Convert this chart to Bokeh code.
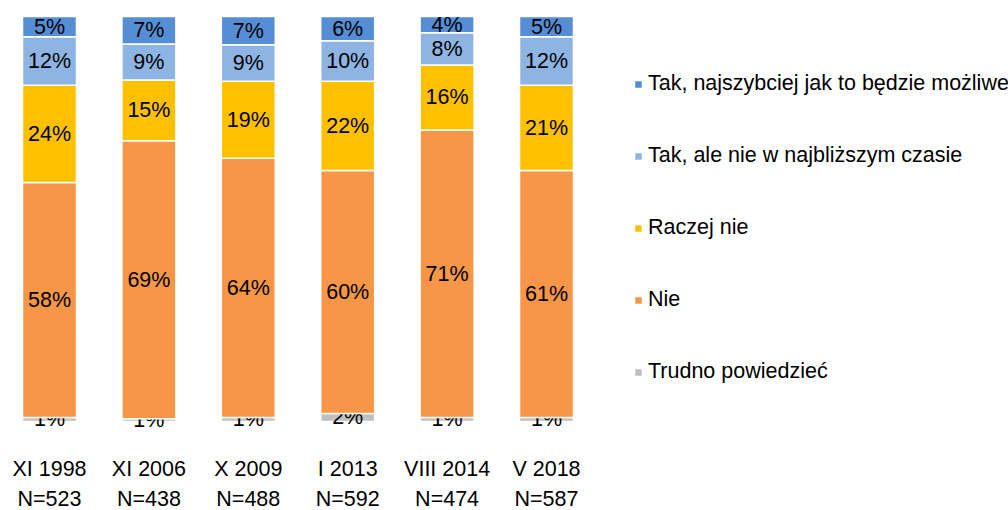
import numpy as np
from bokeh.plotting import figure
from bokeh.models import ColumnDataSource, Legend, LegendItem, Range1d
from bokeh.core.properties import value
from bokeh.embed import file_html
from bokeh.resources import INLINE

categories = ["XI 1998", "XI 2006", "X 2009", "I 2013", "VIII 2014", "V 2018"]
sample_sizes = ["N=523", "N=438", "N=488", "N=592", "N=474", "N=587"]

series_names = [
    "Trudno powiedzieć",
    "Nie",
    "Raczej nie",
    "Tak, ale nie w najbliższym czasie",
    "Tak, najszybciej jak to będzie możliwe",
]
trudno = [1, 0.7, 1, 2, 1, 1]
nie = [58, 68.6, 64, 60, 71, 61]
raczej_nie = [24, 15.0, 19, 22, 16, 21]
tak_ale = [12, 8.9, 9, 10, 8, 12]
tak_szybko = [5, 6.8, 7, 6, 4, 5]
colors = ["#BFBFBF", "#F79646", "#FFC000", "#8EB4E3", "#558ED5"]

series = [trudno, nie, raczej_nie, tak_ale, tak_szybko]

FONT = value("Liberation Sans")
FS = "21.5px"
xs = list(range(len(categories)))

p = figure(width=1008, height=510,
           x_range=Range1d(-0.493, 9.648), y_range=Range1d(-21.98, 103.95),
           x_axis_type=None, y_axis_type=None,
           output_backend="svg", toolbar_location=None, min_border=0)
p.grid.visible = False
p.outline_line_color = None
p.background_fill_color = "white"
p.border_fill_color = "white"

bottom = np.zeros(len(categories))
renderers = []
for name, vals, col in zip(series_names, series, colors):
    vals = np.array(vals, dtype=float)
    top = bottom + vals
    src = ColumnDataSource(dict(
        x=xs, bottom=bottom.copy(), top=top.copy(),
        mid=(bottom + top) / 2,
        label=[f"{v:.0f}%" for v in vals],
    ))
    r = p.vbar(x="x", bottom="bottom", top="top", width=0.543, source=src,
               fill_color=col, line_color="white", line_width=1.5)
    renderers.append(r)
    p.text(x="x", y="mid", text="label", source=src, text_font=FONT,
           text_font_size=FS, text_align="center", text_baseline="middle",
           text_color="black")
    bottom = top

zero = [0] * len(categories)
p.text(x=xs, y=zero, text=categories, y_offset=48, text_font=FONT,
       text_font_size=FS, text_align="center", text_baseline="middle",
       text_color="black")
p.text(x=xs, y=zero, text=sample_sizes, y_offset=78, text_font=FONT,
       text_font_size=FS, text_align="center", text_baseline="middle",
       text_color="black")

items = [LegendItem(label=n, renderers=[r]) for n, r in zip(series_names, renderers)][::-1]
legend = Legend(items=items, location=(633, 126), glyph_width=10, glyph_height=10,
                label_standoff=5, spacing=47, label_height=24, padding=0, margin=0,
                border_line_alpha=0, background_fill_alpha=0,
                label_text_font="Liberation Sans", label_text_font_size=FS,
                label_text_color="black")
p.add_layout(legend)

open("out.html", "w").write(file_html(p, INLINE))
